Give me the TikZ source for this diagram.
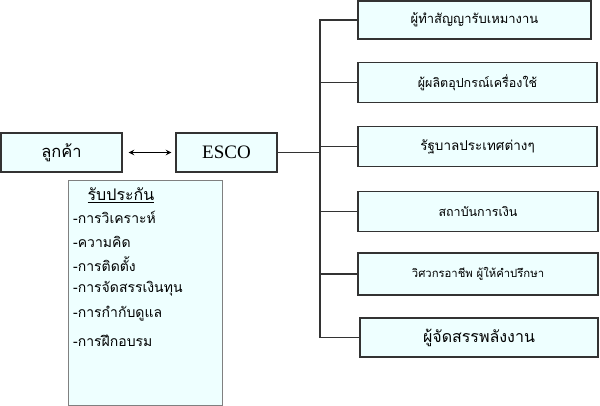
\documentclass[tikz,border=0pt]{standalone}
\usepackage{fontspec}
\setmainfont{Liberation Serif}
\newfontfamily\thaifont[Script=Thai]{Loma}
\definecolor{boxfill}{HTML}{EEFFFF}
\definecolor{boxline}{HTML}{333333}
\begin{document}
\begin{tikzpicture}[x=1pt,y=-1pt,
    org/.style={draw=boxline, line width=1.4pt, fill=boxfill, inner sep=0pt, text centered, text=black},
    party/.style={org, minimum width=233pt, minimum height=40pt},
    item/.style={anchor=west, inner sep=0pt, font=\thaifont\fontsize{14}{16}\selectfont}]
    \useasboundingbox (0,0) rectangle (600,406);
    \node[org, minimum width=121pt, minimum height=39pt, font=\thaifont\fontsize{16.5}{19}\selectfont] (customer) at (61.5,152.5) {ลูกค้า};
    \node[org, minimum width=101pt, minimum height=39pt, font=\fontsize{19}{22}\selectfont] (esco) at (226.5,152.5) {ESCO};
    \node[party, minimum height=38pt, font=\thaifont\fontsize{13}{15}\selectfont] (contractor) at (474.5,20) {ผู้ทำสัญญารับเหมางาน};
    \node[party, minimum width=239pt, font=\thaifont\fontsize{12.5}{15}\selectfont] (maker) at (477.5,82.5) {ผู้ผลิตอุปกรณ์เครื่องใช้};
    \node[party, minimum width=239pt, font=\thaifont\fontsize{13.5}{15}\selectfont] (govt) at (477.5,146.5) {รัฐบาลประเทศต่างๆ};
    \node[party, minimum width=240pt, font=\thaifont\fontsize{12.5}{15}\selectfont] (bank) at (478,211.5) {สถาบันการเงิน};
    \node[party, minimum width=240pt, minimum height=42pt, font=\thaifont\fontsize{11.3}{13}\selectfont] (engineer) at (478,274) {วิศวกรอาชีพ ผู้ให้คำปรึกษา};
    \node[party, minimum width=238pt, minimum height=39pt, font=\thaifont\fontsize{16}{18}\selectfont] (supplier) at (479,337.5) {ผู้จัดสรรพลังงาน};
    % guarantee list
    \draw[draw=gray, fill=boxfill] (68,180) rectangle (222,405);
    \node[item, anchor=center, font=\thaifont\fontsize{16}{18}\selectfont] (title) at (121,195) {\underline{รับประกัน}};
    \node[item] (l1) at (73,217) {-การวิเคราะห์};
    \node[item] (l2) at (73,242) {-ความคิด};
    \node[item] (l3) at (73,264) {-การติดตั้ง};
    \node[item] (l4) at (73,289) {-การจัดสรรเงินทุน};
    \node[item] (l5) at (73,314) {-การกำกับดูแล};
    \node[item] (l6) at (73,341) {-การฝึกอบรม};
    % connectors
    \draw [<->, >=stealth, line width=1.4pt, shorten <=6pt, shorten >=4pt] (customer) -- (esco);
    \coordinate (trunk) at (320,152.5);
    \draw [boxline, line width=1.4pt] (esco) -- (trunk);
    \draw [boxline, line width=1.4pt] (contractor.west) -| (trunk) |- (supplier.west);
    \draw [boxline, line width=1.4pt] (maker.west) -- (maker.west -| trunk);
    \draw [boxline, line width=1.4pt] (govt.west) -- (govt.west -| trunk);
    \draw [boxline, line width=1.4pt] (bank.west) -- (bank.west -| trunk);
    \draw [boxline, line width=1.4pt] (engineer.west) -- (engineer.west -| trunk);
\end{tikzpicture}
\end{document}
